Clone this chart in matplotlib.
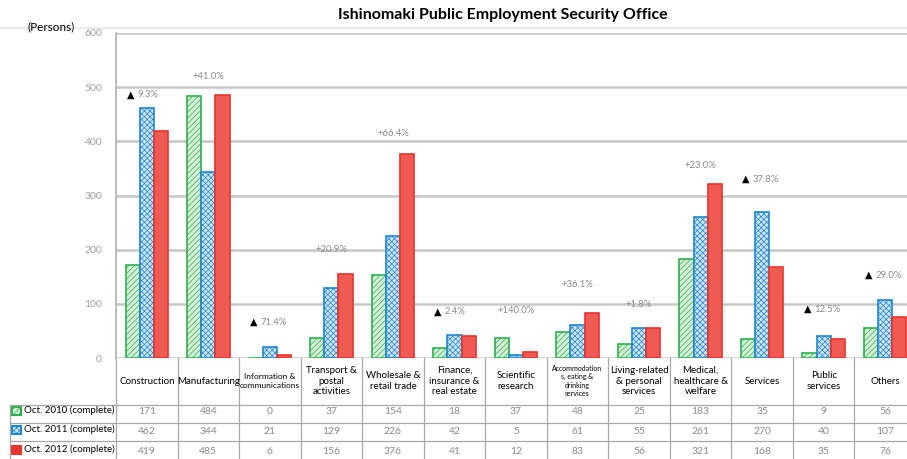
import matplotlib
matplotlib.use("Agg")
import matplotlib.pyplot as plt
import matplotlib.transforms as mtransforms

plt.rcParams['font.family'] = ['Lato', 'DejaVu Sans']
plt.rcParams['hatch.linewidth'] = 0.5

categories = ["Construction", "Manufacturing", "Information &\ncommunications",
              "Transport &\npostal\nactivities", "Wholesale &\nretail trade",
              "Finance,\ninsurance &\nreal estate", "Scientific\nresearch",
              "Accommodation\ns, eating &\ndrinking\nservices",
              "Living-related\n& personal\nservices", "Medical,\nhealthcare &\nwelfare",
              "Services", "Public\nservices", "Others"]
series_names = ["Oct. 2010 (complete)", "Oct. 2011 (complete)", "Oct. 2012 (complete)"]
oct2010 = [171, 484, 0, 37, 154, 18, 37, 48, 25, 183, 35, 9, 56]
oct2011 = [462, 344, 21, 129, 226, 42, 5, 61, 55, 261, 270, 40, 107]
oct2012 = [419, 485, 6, 156, 376, 41, 12, 83, 56, 321, 168, 35, 76]
changes = ["-9.3%", "+41.0%", "-71.4%", "+20.9%", "+66.4%", "-2.4%", "+140.0%",
           "+36.1%", "+1.8%", "+23.0%", "-37.8%", "-12.5%", "-29.0%"]
label_y = [486, 520, 66, 201, 415, 85, 87, 135, 98, 356, 330, 90, 153]

series = [oct2010, oct2011, oct2012]
faces = ["#d6f0d8", "#cfe4f5", "#ef5a52"]
edges = ["#2fb04f", "#1f86cf", "#e8342c"]
hatches = ["//////", "xxxxxx", None]
# header cells that are squeezed in the original
header_sizes = {"Information &\ncommunications": 6,
                "Accommodation\ns, eating &\ndrinking\nservices": 5}

fig = plt.figure(figsize=(9.07, 4.59), dpi=100)
ax = fig.add_axes([116 / 907, 1 - 358 / 459, 800 / 907, 325 / 459])

n = len(categories)
w = 0.23
for i, vals in enumerate(series):
    xs = [k + (i - 1) * w for k in range(n)]
    ax.bar(xs, vals, width=w, color=faces[i], edgecolor=edges[i],
           hatch=hatches[i], linewidth=1.2, zorder=3)

ax.set_xlim(-0.5, n - 0.5)
ax.set_ylim(0, 600)
ax.set_yticks(range(0, 601, 100))
ax.tick_params(axis='y', length=0, labelsize=7.5, labelcolor='#a0a0a0', pad=10)
ax.set_xticks([])
ax.grid(axis='y', color='#c8c8c8', linewidth=1.8, zorder=0)
for s in ['right', 'bottom', 'top']:
    ax.spines[s].set_visible(False)
ax.spines['left'].set_color('#b0b0b0')
ax.spines['left'].set_linewidth(1.2)

# change labels
for k in range(n):
    txt = changes[k]
    if txt.startswith('-'):
        ax.annotate("▲", (k, label_y[k]), xytext=(-9, 0), textcoords='offset points',
                    ha='right', va='center', fontsize=7, color='black',
                    family=['DejaVu Sans'])
        ax.annotate(txt[1:], (k, label_y[k]), xytext=(-7, 0), textcoords='offset points',
                    ha='left', va='center', fontsize=6.8, color='#8a8a8a')
    else:
        ax.text(k, label_y[k], txt, ha='center', va='center', fontsize=6.8,
                color='#8a8a8a')

# data table below the axis
trans = mtransforms.blended_transform_factory(ax.transData, fig.transFigure)
def fy(py):
    return 1 - py / 459

line_c = '#a8a8a8'
row_lines = [405, 423, 441]
row_centers = [412, 431, 451]
x_left = -0.5 - (116 - 10) / 61.5

for k in range(n + 1):
    fig.add_artist(plt.Line2D([k - 0.5, k - 0.5], [fy(358), fy(459)], transform=trans,
                              color=line_c, linewidth=0.9))
fig.add_artist(plt.Line2D([x_left, x_left], [fy(405), fy(459)], transform=trans,
                          color=line_c, linewidth=0.9))
for py in row_lines:
    fig.add_artist(plt.Line2D([x_left, n - 0.5], [fy(py), fy(py)], transform=trans,
                              color=line_c, linewidth=0.9))

for k, cat in enumerate(categories):
    fs = header_sizes.get(cat, 7)
    fig.text(k, fy(381), cat, transform=trans, ha='center', va='center',
             fontsize=fs, color='black', linespacing=1.25)
    for r, vals in enumerate(series):
        fig.text(k, fy(row_centers[r]), str(vals[k]), transform=trans,
                 ha='center', va='center', fontsize=7.5, color='#8a8a8a')

for r, name in enumerate(series_names):
    yy = fy(row_centers[r] - 1)
    fig.patches.append(plt.Rectangle((12 / 907, yy - 0.009), 9 / 907, 0.018,
                                     transform=fig.transFigure,
                                     facecolor=edges[r] if r == 2 else faces[r],
                                     edgecolor=edges[r], linewidth=1.5, hatch=hatches[r]))
    fig.text(24 / 907, yy + 0.002, name, ha='left', va='center', fontsize=7, color='black')

# headings
fig.text(503 / 907, fy(15), "Ishinomaki Public Employment Security Office",
         ha='center', va='center', fontsize=11.5, fontweight='bold', color='black')
fig.text(51 / 907, fy(27), "(Persons)", ha='center', va='center', fontsize=8.5, color='black')
fig.add_artist(plt.Line2D([0, 1], [fy(28), fy(28)], color='#ececec', linewidth=1.5))

fig.savefig("out.png", dpi=100)
